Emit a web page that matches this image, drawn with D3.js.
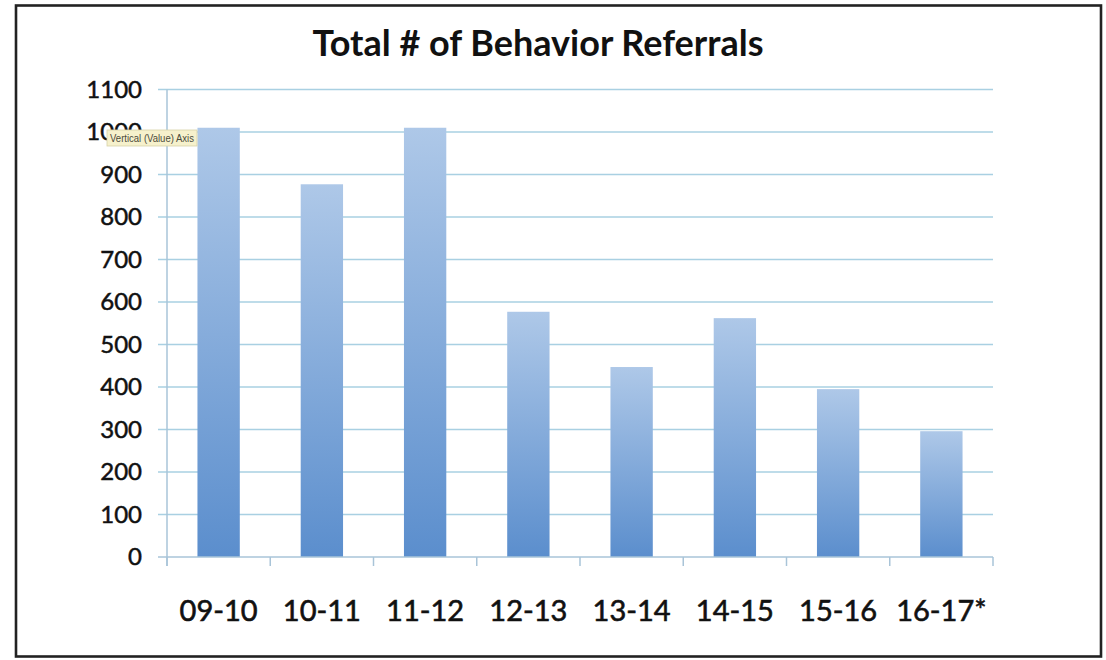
<!DOCTYPE html>
<html>
<head>
<meta charset="utf-8">
<script src="https://cdn.jsdelivr.net/npm/d3@7"></script>
<style>
  body { margin: 0; background: #ffffff; }
  svg { display: block; }
</style>
</head>
<body>
<script>
// data
var seasons = ["09-10", "10-11", "11-12", "12-13", "13-14", "14-15", "15-16", "16-17*"];
var referrals = [1010, 877, 1010, 577, 447, 562, 395, 296];
var yTicks = [0, 100, 200, 300, 400, 500, 600, 700, 800, 900, 1000, 1100];
var chartTitle = "Total # of Behavior Referrals";
var tooltipText = "Vertical (Value) Axis";

var width = 1106, height = 660;
// plot area edges (window.top is taken, so own names here)
var plotLeft = 167, plotRight = 993, plotTop = 89.5, plotBottom = 557;

var svg = d3.select("body").append("svg")
  .attr("width", width)
  .attr("height", height);

// gradient for the bars, light on top and darker at the bottom
var grad = svg.append("defs").append("linearGradient")
  .attr("id", "barGrad")
  .attr("x1", 0).attr("y1", 0).attr("x2", 0).attr("y2", 1);
grad.append("stop").attr("offset", "0%").attr("stop-color", "#aec8e8");
grad.append("stop").attr("offset", "100%").attr("stop-color", "#5b8ecd");

svg.append("rect")
  .attr("width", width).attr("height", height)
  .attr("fill", "#ffffff");

// outer frame
svg.append("rect")
  .attr("x", 16).attr("y", 5.5)
  .attr("width", 1085).attr("height", 651)
  .attr("fill", "none")
  .attr("stroke", "#222222")
  .attr("stroke-width", 2.6);

var y = d3.scaleLinear()
  .domain([0, 1100])
  .range([plotBottom, plotTop]);

var x = d3.scaleBand()
  .domain(seasons)
  .range([plotLeft, plotRight])
  .paddingInner(0.59)
  .paddingOuter(0.295);

// gridlines
svg.append("g")
  .selectAll("line")
  .data(yTicks.filter(d => d > 0))
  .enter().append("line")
  .attr("x1", 158)
  .attr("x2", plotRight)
  .attr("y1", d => y(d))
  .attr("y2", d => y(d))
  .attr("stroke", "#a9d0e2")
  .attr("stroke-width", 1.5);

// y tick labels (thin stroke, the scan makes the text look heavier)
svg.append("g")
  .selectAll("text")
  .data(yTicks)
  .enter().append("text")
  .attr("x", 142)
  .attr("y", d => y(d))
  .attr("dy", "0.35em")
  .attr("text-anchor", "end")
  .style("font-family", "Lato, 'Open Sans', sans-serif")
  .style("font-size", "24px")
  .style("fill", "#111111")
  .style("stroke", "#111111")
  .style("stroke-width", 0.5)
  .text(d => d);

// bars
svg.append("g")
  .selectAll("rect")
  .data(referrals)
  .enter().append("rect")
  .attr("x", (d, i) => x(seasons[i]))
  .attr("y", d => y(d))
  .attr("width", x.bandwidth())
  .attr("height", d => plotBottom - y(d))
  .attr("fill", "url(#barGrad)");

// axis lines
svg.append("line")
  .attr("x1", plotLeft).attr("x2", plotLeft)
  .attr("y1", plotTop).attr("y2", plotBottom + 9)
  .attr("stroke", "#a9c4d8").attr("stroke-width", 1.5);

svg.append("line")
  .attr("x1", 158).attr("x2", plotRight)
  .attr("y1", plotBottom).attr("y2", plotBottom)
  .attr("stroke", "#a9c4d8").attr("stroke-width", 1.5);

// category boundary ticks
var step = x.step();
svg.append("g")
  .selectAll("line")
  .data(d3.range(seasons.length + 1))
  .enter().append("line")
  .attr("x1", i => plotLeft + i * step)
  .attr("x2", i => plotLeft + i * step)
  .attr("y1", plotBottom)
  .attr("y2", plotBottom + 9)
  .attr("stroke", "#a9c4d8")
  .attr("stroke-width", 1.5);

// x labels
svg.append("g")
  .selectAll("text")
  .data(seasons)
  .enter().append("text")
  .attr("x", d => x(d) + x.bandwidth() / 2)
  .attr("y", 621)
  .attr("text-anchor", "middle")
  .style("font-family", "Lato, 'Open Sans', sans-serif")
  .style("font-size", "29px")
  .style("fill", "#111111")
  .style("stroke", "#111111")
  .style("stroke-width", 0.6)
  .text(d => d);

// title
svg.append("text")
  .attr("x", 538)
  .attr("y", 56)
  .attr("text-anchor", "middle")
  .attr("textLength", 451)
  .attr("lengthAdjust", "spacingAndGlyphs")
  .style("font-family", "Lato, 'Open Sans', sans-serif")
  .style("font-weight", "bold")
  .style("font-size", "36px")
  .style("fill", "#111111")
  .text(chartTitle);

// the little hover tooltip on the value axis
var tip = svg.append("g").attr("transform", "translate(107,130)");
tip.append("rect")
  .attr("width", 90).attr("height", 16)
  .attr("fill", "#f6f1cc")
  .attr("stroke", "#d8d2a8")
  .attr("stroke-width", 0.8);
tip.append("text")
  .attr("x", 3).attr("y", 12)
  .attr("textLength", 84)
  .attr("lengthAdjust", "spacingAndGlyphs")
  .style("font-family", "'Liberation Sans', Arial, sans-serif")
  .style("font-size", "10.5px")
  .style("fill", "#4a4a3a")
  .text(tooltipText);
</script>
</body>
</html>
